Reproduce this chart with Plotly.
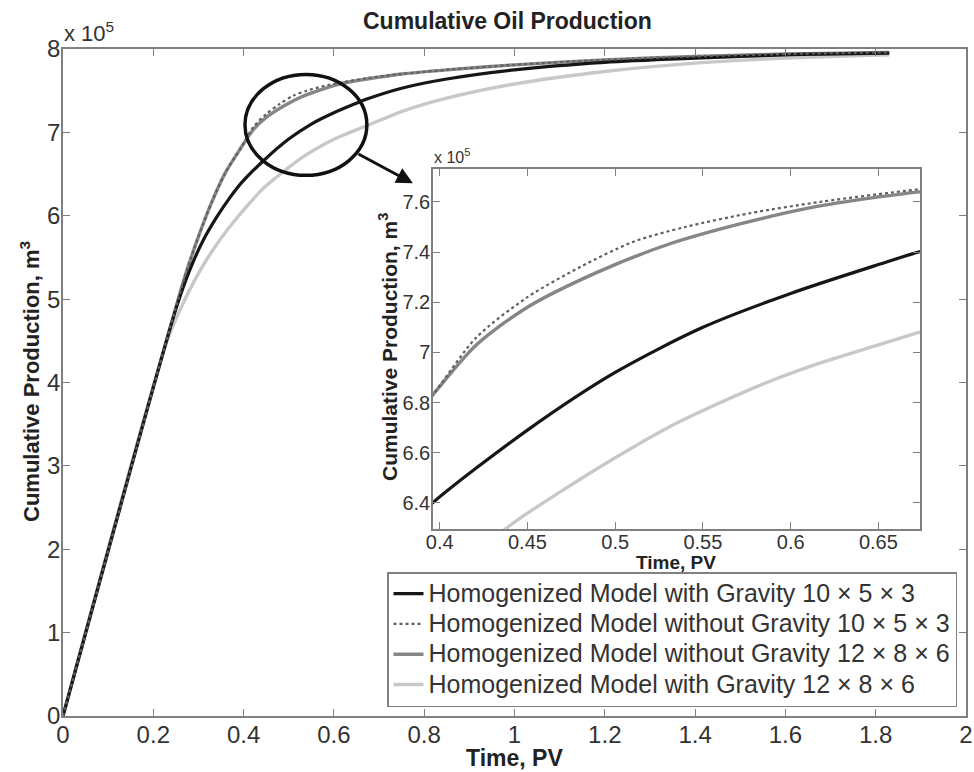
import plotly.graph_objects as go

# ---------------- data (production in units of 1e5 m^3, time in PV) ----------------
t_grav_10 = [0, 0.25, 0.28, 0.31, 0.34, 0.37, 0.396, 0.45, 0.50, 0.55, 0.60, 0.65, 0.673,
             0.75, 0.85, 1.0, 1.2, 1.4, 1.6, 1.83]
v_grav_10 = [0, 4.88, 5.34, 5.70, 5.98, 6.22, 6.40, 6.69, 6.92, 7.10, 7.235, 7.35, 7.40,
             7.53, 7.64, 7.75, 7.84, 7.89, 7.93, 7.95]

t_nograv_10 = [0, 0.27, 0.30, 0.33, 0.36, 0.396, 0.421, 0.45, 0.48, 0.51, 0.54, 0.577, 0.617,
               0.673, 0.75, 0.85, 1.0, 1.2, 1.4, 1.6, 1.83]
v_nograv_10 = [0, 5.27, 5.75, 6.17, 6.52, 6.83, 7.06, 7.22, 7.34, 7.44, 7.50, 7.555, 7.60,
               7.65, 7.70, 7.75, 7.81, 7.87, 7.91, 7.94, 7.96]

t_nograv_12 = [0, 0.27, 0.30, 0.33, 0.36, 0.396, 0.421, 0.45, 0.49, 0.53, 0.57, 0.61, 0.64,
               0.673, 0.75, 0.85, 1.0, 1.2, 1.4, 1.6, 1.83]
v_nograv_12 = [0, 5.27, 5.75, 6.17, 6.52, 6.83, 7.03, 7.18, 7.32, 7.43, 7.51, 7.575, 7.61,
               7.64, 7.70, 7.75, 7.81, 7.87, 7.91, 7.94, 7.96]

t_grav_12 = [0, 0.23, 0.26, 0.29, 0.32, 0.35, 0.38, 0.41, 0.44, 0.47, 0.50, 0.53, 0.56,
             0.59, 0.62, 0.65, 0.673, 0.75, 0.85, 1.0, 1.2, 1.4, 1.6, 1.83]
v_grav_12 = [0, 4.49, 4.88, 5.21, 5.49, 5.73, 5.94, 6.13, 6.31, 6.45, 6.58, 6.70, 6.80,
             6.89, 6.965, 7.03, 7.08, 7.25, 7.41, 7.58, 7.73, 7.83, 7.89, 7.93]

names = ["Homogenized Model with Gravity 10 × 5 × 3",
         "Homogenized Model without Gravity 10 × 5 × 3",
         "Homogenized Model without Gravity 12 × 8 × 6",
         "Homogenized Model with Gravity 12 × 8 × 6"]

main_xticks = [0, 0.2, 0.4, 0.6, 0.8, 1, 1.2, 1.4, 1.6, 1.8, 2]
main_xtext = ["0", "0.2", "0.4", "0.6", "0.8", "1", "1.2", "1.4", "1.6", "1.8", "2"]
main_yticks = [0, 1, 2, 3, 4, 5, 6, 7, 8]
main_ytext = ["0", "1", "2", "3", "4", "5", "6", "7", "8"]
inset_xticks = [0.4, 0.45, 0.5, 0.55, 0.6, 0.65]
inset_xtext = ["0.4", "0.45", "0.5", "0.55", "0.6", "0.65"]
inset_yticks = [6.4, 6.6, 6.8, 7.0, 7.2, 7.4, 7.6]
inset_ytext = ["6.4", "6.6", "6.8", "7", "7.2", "7.4", "7.6"]

FONT = "Liberation Sans, Arial, sans-serif"
AX = "#808080"
TXT = "#333333"

styles = {
    0: dict(color="#161616", width=3.2, dash="solid"),
    1: dict(color="#606060", width=2.2, dash="dot"),
    2: dict(color="#868686", width=3.4, dash="solid"),
    3: dict(color="#c8c8c8", width=3.4, dash="solid"),
}
series = [(t_grav_10, v_grav_10), (t_nograv_10, v_nograv_10),
          (t_nograv_12, v_nograv_12), (t_grav_12, v_grav_12)]

fig = go.Figure()
draw_order = [3, 2, 0, 1]
for i in draw_order:
    t, v = series[i]
    fig.add_trace(go.Scatter(x=t, y=v, mode="lines",
                             name='<span style="font-size:25px">' + names[i] + "</span>",
                             line=dict(shape="spline", smoothing=0.8, **styles[i]),
                             legendrank=i + 1, xaxis="x", yaxis="y"))
for i in draw_order:
    t, v = series[i]
    fig.add_trace(go.Scatter(x=t, y=v, mode="lines", name=names[i], showlegend=False,
                             line=dict(shape="spline", smoothing=0.8, **styles[i]),
                             xaxis="x2", yaxis="y2"))

W, H = 974, 772
mx0, mx1, my0, my1 = 63, 966, 49, 716
ix0, ix1, iy0, iy1 = 433, 920, 169, 529

def ax_common(size):
    return dict(showgrid=False, zeroline=False, showline=True, linecolor=AX, linewidth=1.5,
                mirror="ticks", ticks="inside", ticklen=7, tickcolor=AX, tickwidth=1.2,
                automargin=False,
                tickfont=dict(family=FONT, size=size, color=TXT))

fig.update_layout(
    width=W, height=H, margin=dict(l=0, r=0, t=0, b=0, autoexpand=False),
    paper_bgcolor="white", plot_bgcolor="white",
    font=dict(family=FONT, color=TXT),
    xaxis=dict(domain=[mx0 / W, mx1 / W], range=[0, 2], tickvals=main_xticks,
               ticktext=main_xtext, anchor="y", ticklabelstandoff=-4,
               **ax_common(24)),
    yaxis=dict(domain=[1 - my1 / H, 1 - my0 / H], range=[0, 8], tickvals=main_yticks,
               ticktext=main_ytext, anchor="x", ticklabelstandoff=-4,
               **ax_common(24)),
    xaxis2=dict(domain=[ix0 / W, ix1 / W], range=[0.3962, 0.6737], tickvals=inset_xticks,
                ticktext=inset_xtext, anchor="y2", ticklabelstandoff=-6,
                **ax_common(20)),
    yaxis2=dict(domain=[1 - iy1 / H, 1 - iy0 / H], range=[6.296, 7.731], tickvals=inset_yticks,
                ticktext=inset_ytext, anchor="x2", ticklabelstandoff=-3,
                **ax_common(20)),
    legend=dict(x=387 / W, y=1 - 572 / H, xanchor="left", yanchor="top",
                bgcolor="white", bordercolor=AX, borderwidth=1.5,
                font=dict(family=FONT, size=21, color=TXT), tracegroupgap=0),
    showlegend=True,
)

def ann(text, x, y, size, xanchor="center", yanchor="middle", angle=0, color="#222"):
    fig.add_annotation(text=text, xref="paper", yref="paper", x=x / W, y=1 - y / H,
                       showarrow=False, xanchor=xanchor, yanchor=yanchor, textangle=angle,
                       font=dict(size=size, color=color, family=FONT))

# title and axis titles
ann("<b>Cumulative Oil Production</b>", 508, 21, 23)
ann("<b>Time, PV</b>", 514, 758, 23)
ann("<b>Cumulative Production, m<sup>3</sup></b>", 30, 382, 22, angle=-90)
ann("<b>Time, PV</b>", 676, 562, 19)
ann("<b>Cumulative Production, m<sup>3</sup></b>", 388, 347, 21, angle=-90)
# exponent labels
ann("x 10<sup>5</sup>", 62, 48, 22, xanchor="left", yanchor="bottom", color=TXT)
ann("x 10<sup>5</sup>", 432, 168, 16, xanchor="left", yanchor="bottom", color=TXT)

# ellipse marking the zoomed region
fig.add_shape(type="circle", xref="x", yref="y", x0=0.403, x1=0.673, y0=6.485, y1=7.695,
              line=dict(color="#111", width=3.5), layer="above")
# arrow towards inset
fig.add_annotation(x=0.775, y=6.39, ax=0.651, ay=6.75, xref="x", yref="y", axref="x", ayref="y",
                   text="", showarrow=True, arrowhead=2, arrowsize=1.1, arrowwidth=3,
                   arrowcolor="#111")

fig.write_html("out.html")
